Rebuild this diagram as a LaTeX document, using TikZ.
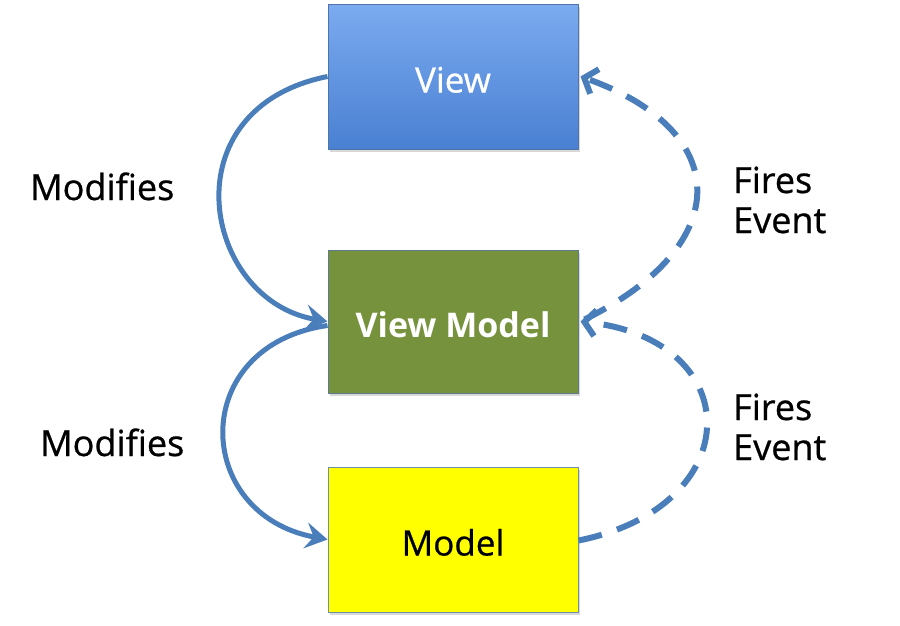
\documentclass[tikz,border=0pt]{standalone}
\usepackage{fontspec}
\setmainfont{Open Sans}
\newfontfamily\comicish{Open Sans}[FakeBold=0.7]
\usetikzlibrary{arrows.meta,shadows}
\definecolor{arrowblue}{HTML}{4A7EBB}
\definecolor{viewtop}{HTML}{7BABF0}
\definecolor{viewbot}{HTML}{4A80D2}
\definecolor{viewedge}{HTML}{4F74A8}
\definecolor{vmfill}{HTML}{76923C}
\definecolor{vmedge}{HTML}{5F7A8E}
\definecolor{modelfill}{HTML}{FFFF00}
\definecolor{modeledge}{HTML}{6E8FA8}
\tikzset{
  box/.style={rectangle, minimum width=250pt, inner sep=0pt, line width=1pt,
    text height=32pt, text depth=0pt,
    drop shadow={shadow xshift=2pt, shadow yshift=-3pt, opacity=0.3, fill=gray}},
  boxtext/.style={font=\comicish\fontsize{35}{40}\selectfont},
  lbl/.style={font=\comicish\fontsize{36}{40}\selectfont, anchor=base west, inner sep=0pt, text=black},
  solidarrow/.style={draw=arrowblue, line width=5pt,
    -{Stealth[length=22pt,width=26pt,inset=8pt]}},
  dasharrow/.style={draw=arrowblue, line width=6pt, dash pattern=on 24pt off 16pt,
    -{Straight Barb[length=11pt,width=26pt,line width=6pt]}}
}
\begin{document}
\begin{tikzpicture}[x=1pt,y=-1pt]
\useasboundingbox[fill=white] (0,0) rectangle (900,625);
% boxes
\node[box, minimum height=145pt, top color=viewtop, bottom color=viewbot, draw=viewedge,
      boxtext, text=white] (view) at (453,76.5) {View};
\node[box, minimum height=143pt, fill=vmfill, draw=vmedge,
      text=white, font=\fontsize{34}{40}\selectfont\bfseries] (vm) at (453,321.5) {View Model};
\node[box, minimum height=145pt, fill=modelfill, draw=modeledge,
      boxtext, text=black] (model) at (453,539.5) {Model};
% solid arrows
\draw[solidarrow] (view.west) .. controls +(-160,32) and +(-125,-22) .. (vm.west);
\draw[solidarrow] ([yshift=-4pt]vm.west) .. controls +(-140,20) and +(-135,-25) .. (model.west);
% dashed arrows
\draw[dasharrow] ([xshift=6pt,yshift=2pt]vm.east) .. controls +(152,-75) and +(152,54) .. ([xshift=2pt]view.east);
\draw[dasharrow] ([yshift=-1pt]model.east) .. controls +(170,-34) and +(168,18) .. ([xshift=2pt]vm.east);
% labels
\node[lbl] (mod1) at (30,200) {Modifies};
\node[lbl] (mod2) at (40,456) {Modifies};
\node[lbl] (fire1) at (733,193) {Fires};
\node[lbl] (ev1) at (733,233) {Event};
\node[lbl] (fire2) at (733,420) {Fires};
\node[lbl] (ev2) at (733,460) {Event};
\end{tikzpicture}
\end{document}
